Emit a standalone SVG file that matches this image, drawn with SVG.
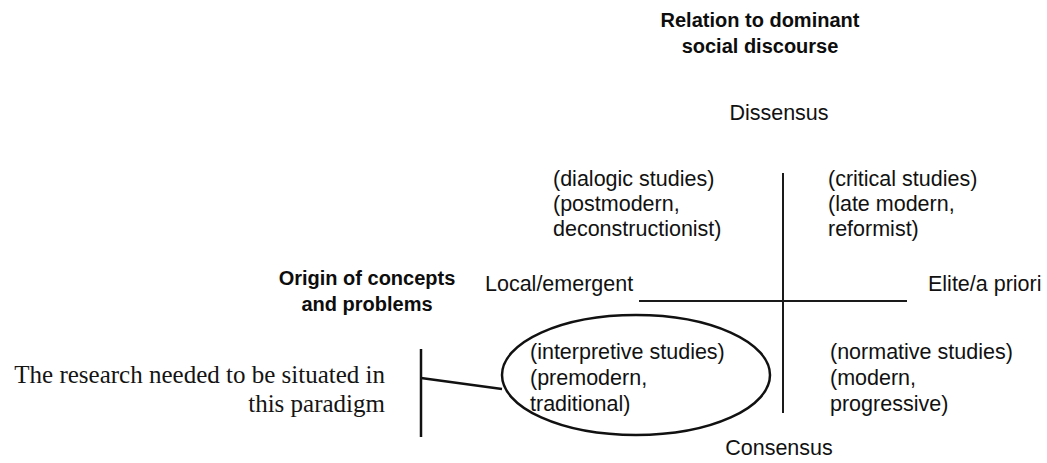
<svg xmlns="http://www.w3.org/2000/svg" width="1047" height="463" viewBox="0 0 1047 463">
  <style>
    .sans { font-family: "Liberation Sans", Arial, sans-serif; font-size: 21.5px; fill: #111; }
    .bold { font-family: "Liberation Sans", Arial, sans-serif; font-size: 20px; font-weight: bold; fill: #0d0d0d; }
    .serif { font-family: "Liberation Serif", "Times New Roman", serif; font-size: 25px; fill: #141414; }
    .axis { stroke: #1a1a1a; stroke-width: 2; fill: none; }
    .mark { stroke: #111; stroke-width: 2.5; fill: none; }
  </style>
  <rect width="1047" height="463" fill="#ffffff"/>

  <!-- axis titles -->
  <g id="title-discourse">
    <text class="bold" x="760" y="27" text-anchor="middle">Relation to dominant</text>
    <text class="bold" x="760" y="53" text-anchor="middle">social discourse</text>
  </g>
  <g id="title-origin">
    <text class="bold" x="367" y="285" text-anchor="middle">Origin of concepts</text>
    <text class="bold" x="367" y="311" text-anchor="middle">and problems</text>
  </g>

  <!-- axis end labels -->
  <g id="label-dissensus"><text class="sans" x="779" y="120" text-anchor="middle">Dissensus</text></g>
  <g id="label-consensus"><text class="sans" x="779" y="455" text-anchor="middle">Consensus</text></g>
  <g id="label-local"><text class="sans" x="485" y="291">Local/emergent</text></g>
  <g id="label-elite"><text class="sans" x="928" y="291">Elite/a priori</text></g>

  <!-- quadrants -->
  <g id="quad-dialogic">
    <text class="sans" x="553" y="186">(dialogic studies)</text>
    <text class="sans" x="553" y="211">(postmodern,</text>
    <text class="sans" x="553" y="236">deconstructionist)</text>
  </g>
  <g id="quad-critical">
    <text class="sans" x="828" y="186">(critical studies)</text>
    <text class="sans" x="828" y="211">(late modern,</text>
    <text class="sans" x="828" y="236">reformist)</text>
  </g>
  <g id="quad-interpretive">
    <text class="sans" x="530" y="359">(interpretive studies)</text>
    <text class="sans" x="530" y="385">(premodern,</text>
    <text class="sans" x="530" y="411">traditional)</text>
  </g>
  <g id="quad-normative">
    <text class="sans" x="830" y="359">(normative studies)</text>
    <text class="sans" x="830" y="385">(modern,</text>
    <text class="sans" x="830" y="411">progressive)</text>
  </g>

  <!-- callout note -->
  <g id="note">
    <text class="serif" x="385" y="383" text-anchor="end">The research needed to be situated in</text>
    <text class="serif" x="385" y="412" text-anchor="end">this paradigm</text>
  </g>

  <g id="connectors">
    <line class="axis" x1="783" y1="173" x2="783" y2="413"/>
    <line class="axis" x1="639" y1="301" x2="907" y2="301"/>
    <ellipse class="mark" cx="636" cy="375" rx="134" ry="60"/>
    <line class="mark" x1="421" y1="349" x2="421" y2="437"/>
    <line class="mark" x1="421" y1="378" x2="502" y2="389"/>
  </g>
</svg>
